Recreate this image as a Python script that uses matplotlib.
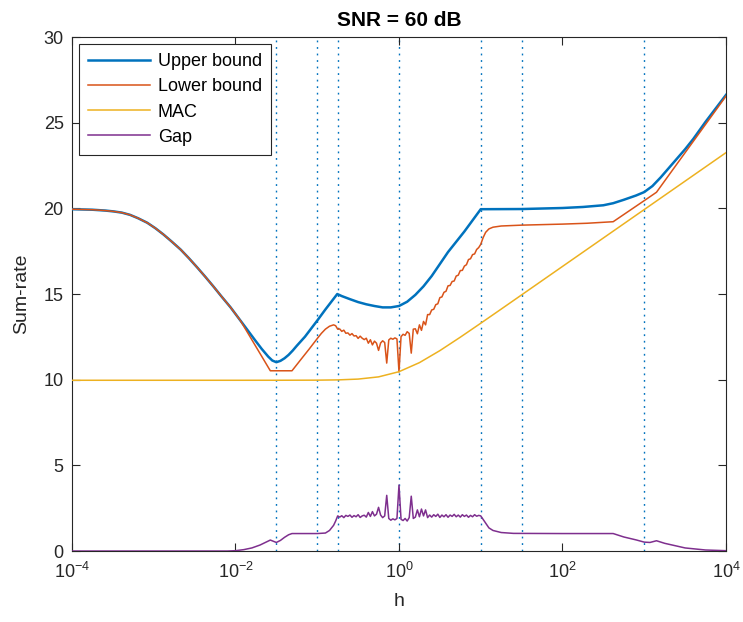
import numpy as np
import matplotlib
matplotlib.use("Agg")
import matplotlib.pyplot as plt

plt.rcParams['font.family'] = ['Liberation Sans', 'DejaVu Sans']
plt.rcParams['mathtext.default'] = 'regular'

# ---------------- data (x given as log10(h)) ----------------
upper_exp = [-4.0, -3.75, -3.59, -3.49, -3.39, -3.29, -3.19, -3.08, -2.98, -2.88, -2.78,
             -2.67, -2.57, -2.47, -2.37, -2.27, -2.17, -2.06,
             -1.96, -1.88, -1.76, -1.68, -1.60, -1.55, -1.50, -1.45, -1.40, -1.35,
             -1.30, -1.25, -1.15, -1.0, -0.9, -0.755, -0.7, -0.6, -0.5, -0.4,
             -0.3, -0.2, -0.1, 0.0, 0.1, 0.2, 0.3, 0.4, 0.5, 0.6,
             0.7, 0.8, 0.9, 1.0, 1.5, 2.0, 2.25, 2.5, 2.62, 2.75,
             2.9, 3.0, 3.1, 3.2, 3.3, 3.4, 3.5, 3.6, 3.75, 4.0]
upper_val = [19.95, 19.92, 19.87, 19.82, 19.75, 19.62, 19.42, 19.16, 18.84, 18.47, 18.06,
             17.59, 17.09, 16.56, 16.01, 15.44, 14.85, 14.22,
             13.58, 13.07, 12.30, 11.80, 11.35, 11.12, 11.02, 11.10, 11.25, 11.45,
             11.70, 11.98, 12.51, 13.45, 14.10, 15.00, 14.88, 14.70, 14.53, 14.40,
             14.30, 14.22, 14.22, 14.30, 14.55, 14.95, 15.45, 16.05, 16.75, 17.45,
             18.05, 18.65, 19.30, 19.95, 19.96, 20.02, 20.08, 20.18, 20.30, 20.50,
             20.75, 20.95, 21.30, 21.80, 22.35, 22.90, 23.45, 24.05, 25.05, 26.62]

lower_exp_a = [-4.0, -3.75, -3.59, -3.49, -3.39, -3.29, -3.19, -3.08, -2.98, -2.88, -2.78,
               -2.67, -2.57, -2.47, -2.37, -2.27, -2.17, -2.06,
               -1.96, -1.94, -1.574, -1.309, -1.2, -1.1, -1.0, -0.95, -0.9, -0.85,
               -0.8, -0.775]
lower_val_a = [19.95, 19.92, 19.87, 19.82, 19.75, 19.62, 19.42, 19.16, 18.84, 18.47, 18.06,
               17.59, 17.09, 16.56, 16.01, 15.44, 14.85, 14.22,
               13.58, 13.45, 10.52, 10.52, 11.18, 11.78, 12.40, 12.70, 12.95, 13.12,
               13.20, 13.15]
# noisy section, log10(h) from -0.75 to 1.0 in steps of 0.025
noisy_exp = [-0.75, -0.725, -0.7, -0.675, -0.65, -0.625, -0.6, -0.575, -0.55, -0.525,
             -0.5, -0.475, -0.45, -0.425, -0.4, -0.375, -0.35, -0.325, -0.3, -0.275,
             -0.25, -0.225, -0.2, -0.175, -0.15, -0.125, -0.1, -0.075, -0.05, -0.025,
             0.0, 0.025, 0.05, 0.075, 0.1, 0.125, 0.15, 0.175, 0.2, 0.225,
             0.25, 0.275, 0.3, 0.325, 0.35, 0.375, 0.4, 0.425, 0.45, 0.475,
             0.5, 0.525, 0.55, 0.575, 0.6, 0.625, 0.65, 0.675, 0.7, 0.725,
             0.75, 0.775, 0.8, 0.825, 0.85, 0.875, 0.9, 0.925, 0.95, 0.975, 1.0]
lower_noisy = [12.95, 12.96, 12.82, 12.89, 12.71, 12.73, 12.60, 12.69, 12.55, 12.57,
               12.41, 12.54, 12.42, 12.34, 12.42, 12.13, 12.33, 12.03, 12.25, 12.13,
               11.71, 12.14, 12.27, 12.17, 10.97, 12.32, 12.42, 12.36, 12.44, 12.38,
               10.45, 12.51, 12.65, 12.59, 12.80, 12.70, 11.55, 12.95, 12.97, 12.68,
               13.20, 12.88, 13.40, 13.20, 13.80, 13.80, 14.07, 14.11, 14.38, 14.43,
               14.79, 14.83, 15.10, 15.16, 15.48, 15.50, 15.73, 15.76, 16.05, 16.10,
               16.37, 16.38, 16.63, 16.71, 17.01, 17.06, 17.30, 17.34, 17.60, 17.71, 17.90]
gap_noisy = [2.05, 1.98, 2.06, 1.95, 2.08, 2.02, 2.10, 1.97, 2.07, 2.00,
             2.12, 1.96, 2.05, 2.09, 1.98, 2.25, 2.02, 2.30, 2.05, 2.15,
             2.55, 2.10, 1.95, 2.05, 3.25, 1.90, 1.80, 1.88, 1.82, 1.90,
             3.85, 1.85, 1.78, 1.90, 1.75, 1.95, 3.20, 1.90, 1.98, 2.40,
             2.00, 2.45, 2.05, 2.40, 1.95, 2.10, 1.98, 2.12, 2.02, 2.15,
             1.96, 2.10, 2.00, 2.12, 1.97, 2.10, 2.02, 2.14, 2.00, 2.10,
             1.98, 2.12, 2.02, 2.10, 1.97, 2.08, 2.00, 2.12, 2.03, 2.08, 2.05]
lower_exp_b = [1.03, 1.06, 1.1, 1.15, 1.25, 1.5, 2.0, 2.3, 2.62, 3.0, 3.15, 4.0]
lower_val_b = [18.30, 18.60, 18.80, 18.90, 18.97, 19.02, 19.08, 19.13, 19.22, 20.45, 20.94, 26.55]

gap_exp_a = [-4.0, -3.0, -2.1, -2.0, -1.9, -1.8, -1.7, -1.6, -1.574, -1.5,
             -1.45, -1.4, -1.35, -1.309, -1.1, -1.0, -0.9, -0.85, -0.8, -0.775]
gap_val_a = [0.0, 0.0, 0.0, 0.02, 0.08, 0.18, 0.35, 0.58, 0.64, 0.50,
             0.62, 0.80, 0.95, 1.02, 1.02, 1.02, 1.05, 1.20, 1.50, 1.75]
gap_exp_b = [1.05, 1.1, 1.15, 1.25, 1.4, 2.0, 2.62, 2.75, 2.9, 3.0,
             3.07, 3.15, 3.25, 3.5, 3.75, 4.0]
gap_val_b = [1.70, 1.35, 1.20, 1.08, 1.03, 1.02, 1.02, 0.82, 0.65, 0.52,
             0.50, 0.60, 0.45, 0.18, 0.06, 0.02]

mac_exp = [-4.0, -3.0, -2.0, -1.5, -1.0, -0.75, -0.5, -0.25, 0.0, 0.25,
           0.5, 0.75, 1.0, 1.25, 1.5, 2.0, 2.5, 3.0, 3.5, 4.0]
mac_val = [9.966, 9.966, 9.966, 9.967, 9.973, 9.988, 10.035, 10.164, 10.466, 10.995,
           11.696, 12.48, 13.295, 14.12, 14.949, 16.61, 18.27, 19.93, 21.59, 23.25]

vline_exp = [-1.5, -1.0, -0.75, 0.0, 1.0, 1.5, 3.0]

labels = ['Upper bound', 'Lower bound', 'MAC', 'Gap']
colors = ['#0072BD', '#D95319', '#EDB120', '#7E2F8E']

# ---------------- figure ----------------
fig = plt.figure(figsize=(7.43, 6.22), dpi=100)
ax = fig.add_axes([0.0969, 0.1141, 0.8802, 0.8264])

for e in vline_exp:
    ax.axvline(10.0 ** e, color='#0072BD', ls=(0, (1.3, 3.4)), lw=1.0, zorder=1)

up_h = 10.0 ** np.array(upper_exp)
lo_h = 10.0 ** np.array(lower_exp_a + noisy_exp + lower_exp_b)
lo_v = lower_val_a + lower_noisy + lower_val_b
gp_h = 10.0 ** np.array(gap_exp_a + noisy_exp + gap_exp_b)
gp_v = gap_val_a + gap_noisy + gap_val_b
mc_h = 10.0 ** np.array(mac_exp)

ax.plot(up_h, upper_val, color=colors[0], lw=1.8, label=labels[0], zorder=3)
ax.plot(lo_h, lo_v, color=colors[1], lw=1.1, label=labels[1], zorder=3)
ax.plot(mc_h, mac_val, color=colors[2], lw=1.1, label=labels[2], zorder=3)
ax.plot(gp_h, gp_v, color=colors[3], lw=1.1, label=labels[3], zorder=3)

ax.set_xscale('log')
ax.set_xlim(1e-4, 1e4)
ax.set_ylim(0, 30)
ax.set_xticks([1e-4, 1e-2, 1, 1e2, 1e4])
ax.set_xticklabels([r'$10^{-4}$', r'$10^{-2}$', r'$10^{0}$', r'$10^{2}$', r'$10^{4}$'])
ax.xaxis.set_minor_locator(matplotlib.ticker.NullLocator())
ax.set_yticks([0, 5, 10, 15, 20, 25, 30])

for s in ax.spines.values():
    s.set_color('#262626')
    s.set_linewidth(0.8)
ax.tick_params(direction='in', length=6, width=0.8, colors='#262626',
               labelsize=13, top=True, right=True, pad=6)
ax.tick_params(axis='x', pad=8)

ax.set_xlabel('h', fontsize=14, color='#262626', labelpad=8)
ax.set_ylabel('Sum-rate', fontsize=14, color='#262626', labelpad=10)
ax.set_title('SNR = 60 dB', fontsize=15, fontweight='bold', pad=8)

leg = ax.legend(loc='upper left', fontsize=13, handlelength=3.4, frameon=True,
                fancybox=False, borderaxespad=0.4, labelspacing=0.45,
                handletextpad=0.45, borderpad=0.5)
leg.get_frame().set_edgecolor('#262626')
leg.get_frame().set_linewidth(0.8)
leg.get_frame().set_alpha(1.0)

fig.savefig('out.png', dpi=100)
